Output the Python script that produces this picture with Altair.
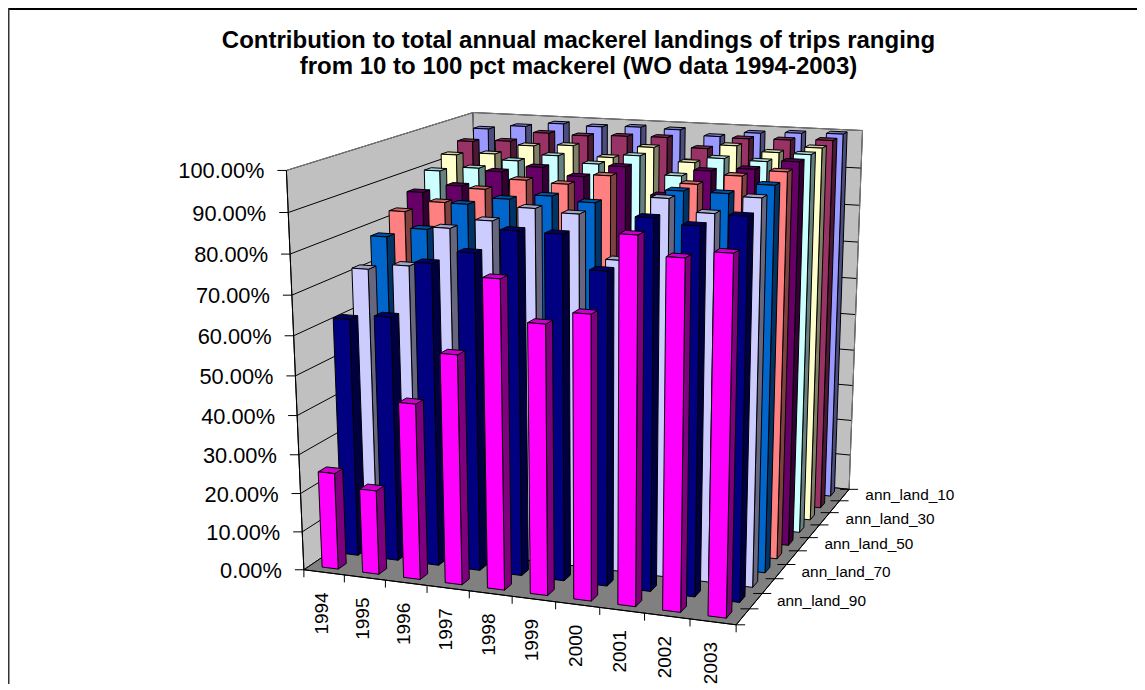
import altair as alt
import numpy as np

years = [str(y) for y in range(1994, 2004)]
series = ["ann_land_100","ann_land_90","ann_land_80","ann_land_70","ann_land_60","ann_land_50","ann_land_40","ann_land_30","ann_land_20","ann_land_10"]
colors = ["#ff00ff","#000080","#ccccff","#0066cc","#ff8080","#660066","#ccffff","#ffffcc","#993366","#9999ff"]
ann_land_100 = [25.0,21.7,44.8,57.9,77.0,67.1,70.3,89.4,84.9,86.7]
ann_land_90 = [61.5,62.9,77.0,80.3,86.3,86.2,78.2,91.4,90.2,93.1]
ann_land_80 = [71.9,73.5,83.6,86.1,89.8,89.1,78.6,94.1,91.2,95.5]
ann_land_70 = [78.1,80.7,87.7,89.6,91.0,90.0,80.0,94.1,94.1,96.7]
ann_land_60 = [82.7,85.7,89.7,92.6,92.2,94.9,84.0,94.0,96.6,98.2]
ann_land_50 = [85.9,88.2,92.5,94.2,92.4,95.5,88.8,95.6,96.6,99.0]
ann_land_40 = [89.9,91.2,93.7,95.6,94.0,96.7,92.1,97.1,96.9,99.2]
ann_land_30 = [92.6,93.4,96.1,96.7,94.1,97.3,93.9,98.8,97.6,99.3]
ann_land_20 = [94.7,95.3,98.0,97.8,98.2,98.4,96.0,99.1,99.3,99.7]
ann_land_10 = [96.7,97.9,99.1,98.8,99.2,99.0,97.7,99.1,99.6,99.9]
values = [ann_land_100,ann_land_90,ann_land_80,ann_land_70,ann_land_60,ann_land_50,ann_land_40,ann_land_30,ann_land_20,ann_land_10]
W, H = 1129, 676

corners = [((0,0,0),(304,570)),((10,0,0),(735.7,625)),((10,10,0),(849.3,489)),((0,10,0),(479,451)),
           ((0,0,1),(286.7,170)),((0,10,1),(472.7,112.7)),((10,10,1),(862.7,130.7))]
A=[];b=[]
for (X,Y,Z),(u,v) in corners:
    A.append([X,Y,Z,1,0,0,0,0,-u*X,-u*Y,-u*Z]);b.append(u)
    A.append([0,0,0,0,X,Y,Z,1,-v*X,-v*Y,-v*Z]);b.append(v)
m=np.linalg.lstsq(np.array(A,float),np.array(b,float),rcond=None)[0]
M=np.append(m,1.0).reshape(3,4)
def P(X,Y,Z):
    q=M@np.array([X,Y,Z,1.0])
    return [float(q[0]/q[2]-8),float(q[1]/q[2]-8)]

def shade(c,k):
    r,g,bb=[int(c[j:j+2],16) for j in (1,3,5)]
    return "#%02x%02x%02x"%(int(r*k),int(g*k),int(bb*k))
def poly(pts,fill):
    return {"type":"Feature","geometry":{"type":"Polygon","coordinates":[pts+[pts[0]]]},"properties":{"fill":fill}}
def line(a,b_,col):
    return {"type":"Feature","geometry":{"type":"LineString","coordinates":[a,b_]},"properties":{"col":col}}

proj=alt.Projection(type="identity",scale=1,translate=[0,0])
walls=[poly([P(0,0,0),P(0,10,0),P(0,10,1),P(0,0,1)],"#c0c0c0"),
       poly([P(0,10,0),P(10,10,0),P(10,10,1),P(0,10,1)],"#c0c0c0"),
       poly([P(0,0,0),P(10,0,0),P(10,10,0),P(0,10,0)],"#808080")]
grid=[]
for k in range(1,10):
    z=k/10
    grid.append(line(P(0,0,z),P(0,10,z),"#000000"))
    grid.append(line(P(0,10,z),P(10,10,z),"#000000"))
edges=[line(P(0,0,1),P(0,10,1),"#808080"),line(P(0,10,1),P(10,10,1),"#808080"),line(P(10,10,1),P(10,10,0),"#808080"),
       line(P(0,10,1),P(0,10,0),"#808080")]
bars=[]
w0,w1=0.3,0.7
for r in range(9,-1,-1):
    for i in range(10):
        z=values[r][i]/100; x0,x1=i+w0,i+w1; y0,y1=r+w0,r+w1; c=colors[r]
        bars.append(poly([P(x1,y0,0),P(x1,y1,0),P(x1,y1,z),P(x1,y0,z)],shade(c,.5)))
        bars.append(poly([P(x0,y0,z),P(x1,y0,z),P(x1,y1,z),P(x0,y1,z)],shade(c,.8)))
        bars.append(poly([P(x0,y0,0),P(x1,y0,0),P(x1,y0,z),P(x0,y0,z)],c))
ticks=[line(P(0,0,0),P(0,0,1),"#000000"),line(P(0,0,0),P(10,0,0),"#000000"),line(P(10,0,0),P(10,10,0),"#000000")]
for k in range(0,11):
    a=P(0,0,k/10); ticks.append(line([a[0]-9,a[1]],a,"#000000"))
    a=P(k,0,0); ticks.append(line(a,[a[0],a[1]+7.5],"#000000"))
    a=P(10,k,0); ticks.append(line([a[0]-(9 if k else 0),a[1]],[a[0]+9,a[1]],"#000000"))

def shape_layer(features):
    return alt.Chart(alt.Data(values=features)).mark_geoshape(stroke="#000000",strokeWidth=1).encode(
        fill=alt.Fill("properties.fill:N",scale=None)).project(**proj.to_dict())
def line_layer(features,sw=1):
    return alt.Chart(alt.Data(values=features)).mark_geoshape(filled=False,strokeWidth=sw).encode(
        stroke=alt.Stroke("properties.col:N",scale=None)).project(**proj.to_dict())

px=alt.Scale(domain=[0,W],range=[0,W]); py=alt.Scale(domain=[0,H],range=[0,H])
def txt(rows,**kw):
    return alt.Chart(alt.Data(values=rows)).mark_text(font="Liberation Sans",**kw).encode(
        x=alt.X("x:Q",scale=px,axis=None),y=alt.Y("y:Q",scale=py,axis=None),text="t:N")
ylabs=[]
for k in range(11):
    a=P(0,0,k/10); ylabs.append({"x":a[0]-22,"y":a[1]+1,"t":"%d.00%%"%(k*10)})
ylab=txt(ylabs,fontSize=21.8,align="right",baseline="middle",color="#000000")
xlabs=[]
for i,yr in enumerate(years):
    a=P(i+.5,0,0); xlabs.append({"x":a[0]-2,"y":a[1]+20,"t":yr})
xlab=txt(xlabs,fontSize=19,align="right",baseline="middle",angle=270,color="#000000")
slabs=[]
for r,s in enumerate(series):
    if r%2==1:
        a=P(10,r+.5,0); slabs.append({"x":a[0]+21,"y":a[1],"t":s})
slab=txt(slabs,fontSize=15.4,align="left",baseline="middle",color="#000000")
frame=[line([1,1],[W,1],"#000000"),line([0.5,0],[0.5,H],"#333333")]
chart=alt.layer(line_layer(frame,2),shape_layer(walls),line_layer(grid+edges),shape_layer(bars),line_layer(ticks),ylab,xlab,slab).properties(
    width=W,height=H,padding=0,autosize=alt.AutoSizeParams(type="none"),
    title=alt.TitleParams(["Contribution to total annual mackerel landings of trips ranging","from 10 to 100 pct mackerel (WO data 1994-2003)"],
        font="Liberation Sans",fontSize=24,fontWeight="bold",anchor="middle",dx=6,offset=-71,lineHeight=26,color="#000000")
).configure_view(stroke=None)
chart.save("out.html",embed_options={"renderer":"svg","actions":False})
